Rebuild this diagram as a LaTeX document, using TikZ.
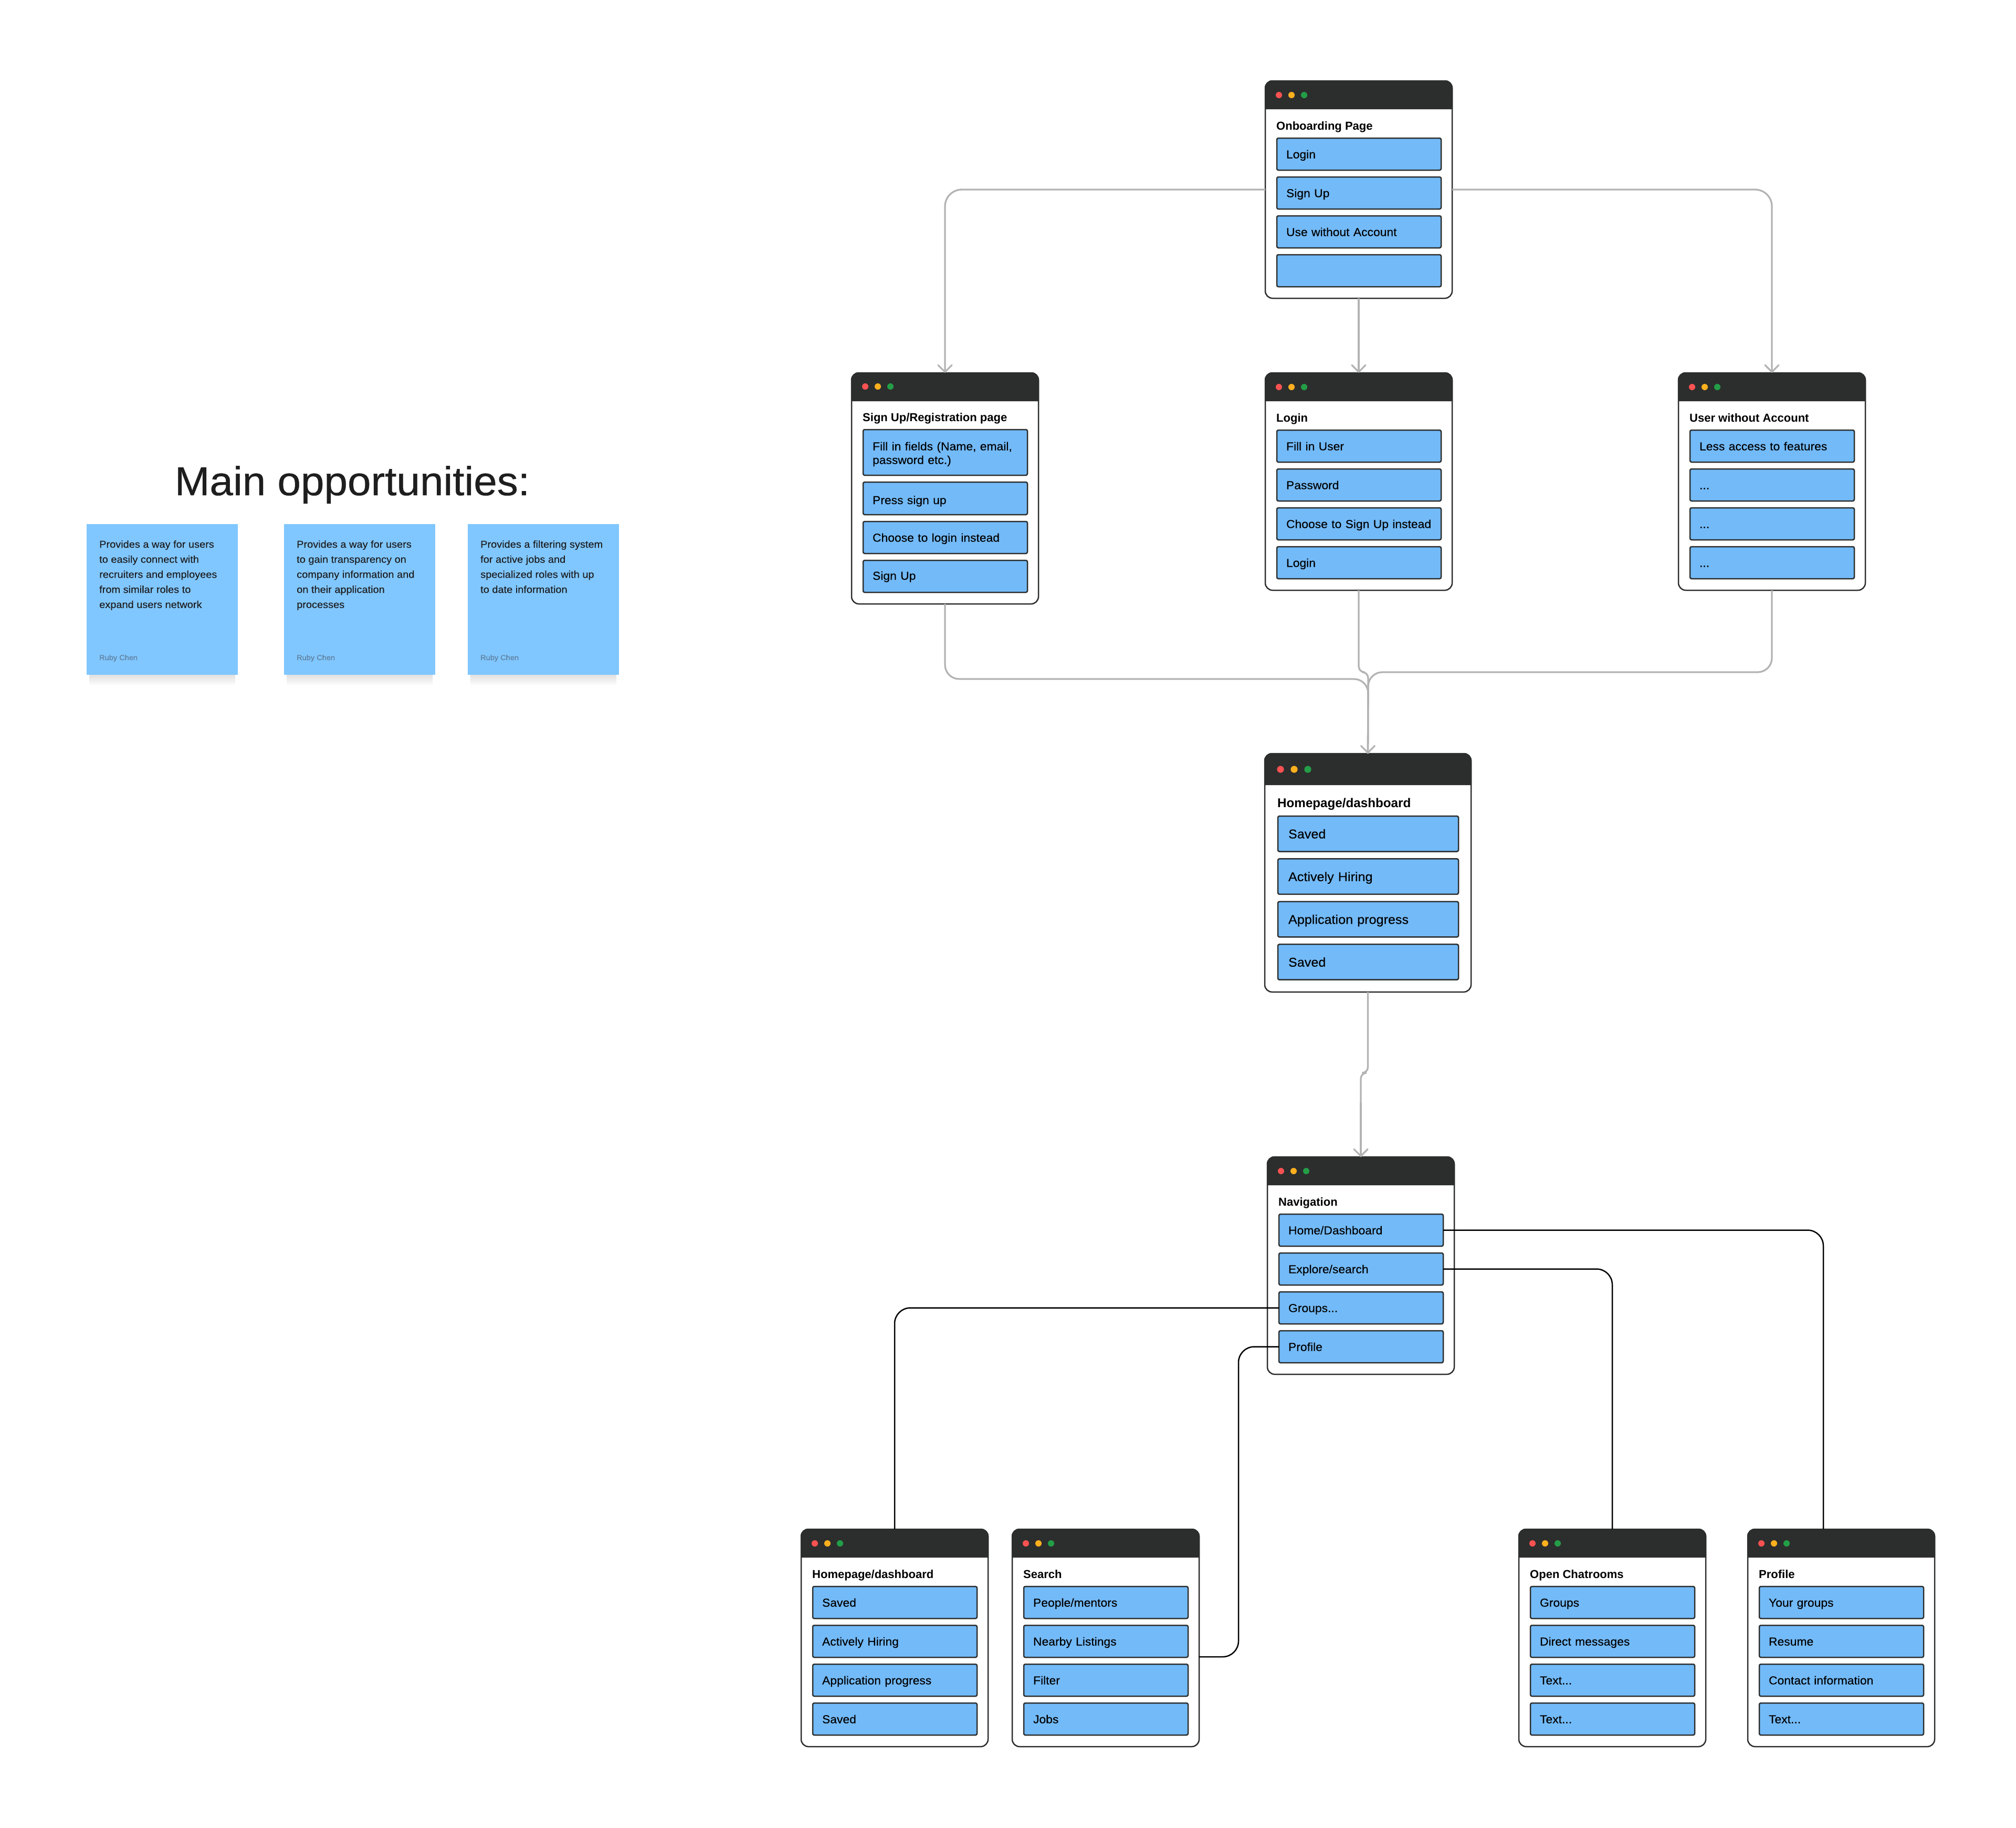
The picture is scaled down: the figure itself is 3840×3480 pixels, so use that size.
\documentclass[tikz,border=0pt]{standalone}
\usepackage{fontspec}
\setmainfont{Liberation Sans}[FakeStretch=1.04,FakeBold=0.3]
\newfontfamily\titlefont{Liberation Sans}
\newfontfamily\headfont{Liberation Sans}[FakeStretch=1.04,FakeBold=0.5]
\usetikzlibrary{arrows.meta,calc}
\definecolor{hdr}{HTML}{2C2E2D}
\definecolor{itemblue}{HTML}{73BAF8}
\definecolor{stickyblue}{HTML}{80C7FF}
\definecolor{flowgray}{HTML}{B3B3B3}
\definecolor{dotred}{HTML}{FA5252}
\definecolor{dotorange}{HTML}{FDB01E}
\definecolor{dotgreen}{HTML}{239E47}
\definecolor{inktext}{HTML}{1E1E1E}
\definecolor{authortext}{HTML}{5F7F9C}
\tikzset{
  winframe/.style={draw=hdr,line width=2.5pt,fill=white,rounded corners=14pt,anchor=north west,inner sep=0pt,outer sep=0pt,minimum width=356pt,minimum height=414pt},
  wintitle/.style={anchor=base west,inner sep=0pt,font=\titlefont\bfseries\fontsize{22}{26}\selectfont,text=black},
  winitem/.style={draw=hdr,line width=2.5pt,fill=itemblue,rounded corners=3pt,anchor=north west,inner xsep=18pt,inner ysep=0pt,outer sep=0pt,text width=277pt,minimum height=61pt,text height=16pt,text depth=0pt,align=left,font=\fontsize{22}{26}\selectfont,text=black},
  bigtitle/.style={wintitle,font=\titlefont\bfseries\fontsize{24.2}{29}\selectfont},
  bigitem/.style={winitem,inner xsep=20pt,text width=304pt,minimum height=67.5pt,text height=17.5pt,font=\fontsize{24.2}{29}\selectfont},
  flow/.style={draw=flowgray,line width=3.3pt,rounded corners=32pt},
  flowtip/.style={flow,-{Straight Barb[length=13pt,width=26pt,line width=3.3pt,round]}},
  link/.style={draw=black,line width=2.5pt,rounded corners=30pt},
  sticky/.style={fill=stickyblue,anchor=north west,inner sep=0pt,outer sep=0pt,minimum width=288pt,minimum height=287pt},
  stickytext/.style={anchor=base west,inner sep=0pt,align=left,font=\fontsize{19.2}{28.7}\selectfont,text=inktext},
  stickyauthor/.style={anchor=base west,inner sep=0pt,font=\fontsize{14}{16}\selectfont,text=authortext},
}
\newcommand{\winhead}[4]{% x y width height
  \fill[hdr] (#1,#2+#4) [rounded corners=14pt] -- (#1,#2) -- (#1+#3,#2) [sharp corners] -- (#1+#3,#2+#4) -- cycle;
}
\newcommand{\windots}[5]{% x1 dx y r unused
  \fill[dotred] (#1,#3) circle (#4);
  \fill[dotorange] (#1+#2,#3) circle (#4);
  \fill[dotgreen] (#1+2*#2,#3) circle (#4);
}
\newcommand{\win}[8]{% id x y title items
  \node[winframe] (#1) at (#2+1,#3+1) {};
  \winhead{#2}{#3}{358}{55}
  \windots{#2+27}{24}{#3+28}{6}{}
  \node[wintitle] (#1t) at (#2+22,#3+94) {#4};
  \node[winitem] (#1a) at (#2+23,#3+110) {#5};
  \node[winitem] (#1b) at (#2+23,#3+184) {#6};
  \node[winitem] (#1c) at (#2+23,#3+258) {#7};
  \node[winitem] (#1d) at (#2+23,#3+332) {#8};
}
\newcommand{\note}[5]{% id x last-baseline text author
  \shade[top color=black!12,bottom color=white] (#2+5,1285) rectangle (#2+283,1306);
  \node[sticky] (#1) at (#2,998) {};
  \node[stickytext] (#1t) at (#2+24,#3) {#4};
  \node[stickyauthor] (#1a) at (#2+24,1257) {#5};
}
\begin{document}
\begin{tikzpicture}[x=1pt,y=-1pt]
\useasboundingbox (0,0) rectangle (3840,3480);
\fill[white] (0,0) rectangle (3840,3480);

% Left side
\node[anchor=base,inner sep=0pt,font=\headfont\fontsize{77}{90}\selectfont,text=inktext] (heading) at (671,943) {Main opportunities:};
\note{noteA}{165}{1157.8}{Provides a way for users\\to easily connect with\\recruiters and employees\\from similar roles to\\expand users network}{Ruby Chen}
\note{noteB}{541}{1157.8}{Provides a way for users\\to gain transparency on\\company information and\\on their application\\processes}{Ruby Chen}
\note{noteC}{891}{1129.1}{Provides a filtering system\\for active jobs and\\specialized roles with up\\to date information}{Ruby Chen}

% Windows
\win{onb}{2409}{153}{Onboarding Page}{Login}{Sign Up}{Use without Account}{}
\win{login}{2409}{709}{Login}{Fill in User}{Password}{\mbox{Choose to Sign Up instead}}{Login}
\win{guest}{3196}{709}{User without Account}{Less access to features}{...}{...}{...}

% Sign up window (taller first item)
\node[winframe,minimum height=440pt] (reg) at (1622,710) {};
\winhead{1621}{709}{358}{55}
\windots{1648}{24}{736}{6}{}
\node[wintitle] (regt) at (1643,802) {Sign Up/Registration page};
\node[winitem,minimum height=87pt,text depth=24pt] (rega) at (1644,818) {Fill in fields (Name, email,\\password etc.)};
\node[winitem,minimum height=62pt,text height=22pt] (regb) at (1644,918) {Press sign up};
\node[winitem] (regc) at (1644,993) {Choose to login instead};
\node[winitem,text height=13pt] (regd) at (1644,1067) {Sign Up};

% Large homepage window
\node[winframe,minimum width=393pt,minimum height=454pt] (home) at (2409,1435) {};
\winhead{2408}{1434}{395}{61}
\windots{2439}{26}{1465}{6.6}{}
\node[bigtitle] (homet) at (2433,1537) {Homepage/dashboard};
\node[bigitem] (homea) at (2434,1554) {Saved};
\node[bigitem] (homeb) at (2434,1635.4) {Actively Hiring};
\node[bigitem] (homec) at (2434,1716.8) {Application progress};
\node[bigitem] (homed) at (2434,1798.2) {Saved};

\win{nav}{2413}{2202}{Navigation}{Home/Dashboard}{Explore/search}{Groups...}{Profile}
\win{dash}{1525}{2911}{Homepage/dashboard}{Saved}{Actively Hiring}{Application progress}{Saved}
\win{search}{1927}{2911}{Search}{People/mentors}{Nearby Listings}{Filter}{Jobs}
\win{chat}{2892}{2911}{Open Chatrooms}{Groups}{Direct messages}{Text...}{Text...}
\win{prof}{3328}{2911}{Profile}{Your groups}{Resume}{Contact information}{Text...}

% Grey flow connectors
\draw[flowtip] (onb.west) -| (reg.north);
\draw[flowtip] (onb.south) -- (login.north);
\draw[flowtip] (onb.east) -| (guest.north);
\draw[flow,rounded corners=27pt] (reg.south) |- (2606,1293) -- (home.north);
\draw[flow,rounded corners=27pt] (guest.south) |- (2606,1280) -- (home.north);
\draw[flow,rounded corners=11pt] (login.south) |- (2606,1280) -- (home.north);
\coordinate (joinpt) at (home.north |- 0,1320);
\draw[flowtip] (joinpt) -- (home.north);
\draw[flow,rounded corners=11pt] (home.south) |- (nav.north |- 0,2043) -- (nav.north);
\coordinate (navin) at (nav.north |- 0,2100);
\draw[flowtip] (navin) -- (nav.north);

% Black links
\coordinate (profin) at ($(prof.north)+(-34,0)$);
\coordinate (searchout) at (search.east |- 0,3155);
\draw[link] (nava.east) -| (profin);
\draw[link] (navb.east) -| (chat.north);
\draw[link] (navc.west) -| (dash.north);
\draw[link] (navd.west) -| (2359,3155) -- (searchout);
\end{tikzpicture}
\end{document}
